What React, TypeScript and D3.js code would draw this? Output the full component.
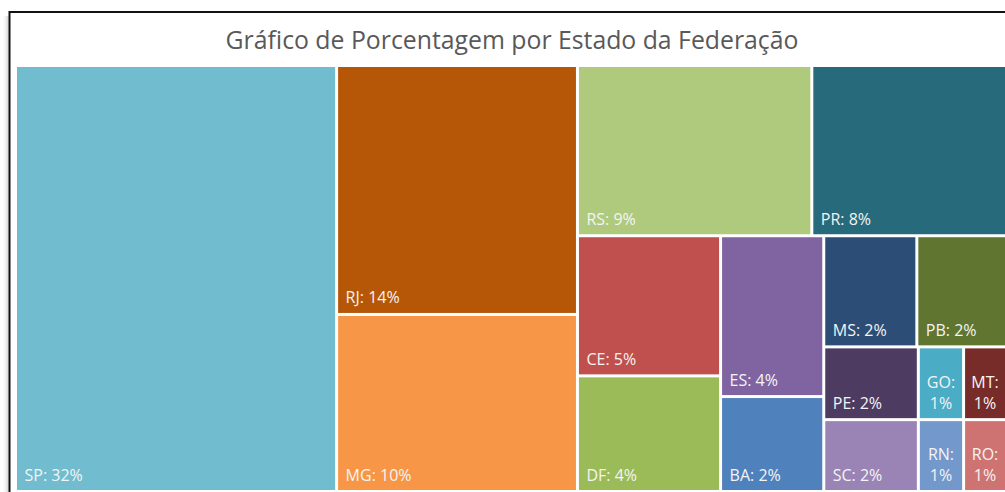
import React from "react";
import * as d3 from "d3";

const title = "Gráfico de Porcentagem por Estado da Federação";

const states = ["SP", "RJ", "MG", "RS", "PR", "CE", "DF", "ES", "BA", "MS", "PB", "PE", "GO", "MT", "SC", "RN", "RO"];
const values = [32.4, 14.2, 10.1, 9.45, 7.85, 4.75, 3.92, 3.93, 2.32, 2.45, 2.36, 1.63, 0.78, 0.74, 1.61, 0.77, 0.73];
const colors = [
  "#71BCCF", "#B65708", "#F79646", "#AFCA7D", "#276A7C", "#C0504D", "#9BBB59", "#8064A2",
  "#4F81BD", "#2C4D76", "#5F7530", "#4D3B62", "#4BACC6", "#772C2A", "#9A84B5", "#7399CC", "#CE7371",
];
const stateGroup = ["A", "B", "B", "C1", "C1", "C2a", "C2a", "C2b", "C2b", "R1", "R1", "R2", "R2", "R2", "R3", "R3", "R3"];

// layout groups (nesting of the treemap) and their split direction
const groupIds = ["root", "A", "B", "C", "C1", "C2", "C2a", "C2b", "C2c", "R1", "R2", "R3"];
const groupParent = [null, "root", "root", "root", "C", "C", "C2", "C2", "C2", "C2c", "C2c", "C2c"];
const groupDir = ["x", "y", "y", "y", "x", "x", "y", "y", "y", "x", "x", "x"];

const W = 1005;
const H = 492;
const plot = { x0: 17, y0: 67, x1: 1005, y1: 490 };
const labelSize = 16;

type Row = { id: string; parent: string | null; dir?: string; value?: number; color?: string; name?: string };

export default function App() {
  const rows: Row[] = [
    ...groupIds.map((id, i) => ({ id, parent: groupParent[i], dir: groupDir[i] })),
    ...states.map((s, i) => ({ id: "s_" + s, parent: stateGroup[i], value: values[i], color: colors[i], name: s })),
  ];
  const root = d3
    .stratify<Row>()
    .id((d) => d.id)
    .parentId((d) => d.parent)(rows)
    .sum((d) => d.value || 0);

  const tile = (node: any, x0: number, y0: number, x1: number, y1: number) => {
    if (node.data.dir === "x") d3.treemapDice(node, x0, y0, x1, y1);
    else d3.treemapSlice(node, x0, y0, x1, y1);
  };

  d3.treemap<Row>()
    .tile(tile as any)
    .size([plot.x1 - plot.x0, plot.y1 - plot.y0])
    .paddingInner(3)
    .round(false)(root);

  const total = d3.sum(values);
  const leaves = root.leaves() as d3.HierarchyRectangularNode<Row>[];

  return (
    <svg width={W} height={H} style={{ position: "absolute", left: 0, top: 0, background: "#fff" }}>
      <defs>
        <linearGradient id="shadow" x1="0" x2="1" y1="0" y2="0">
          <stop offset="0" stopColor="#fff" stopOpacity={0} />
          <stop offset="1" stopColor="#d0d0d0" stopOpacity={1} />
        </linearGradient>
      </defs>
      <rect x={2} y={16} width={6.5} height={H} fill="url(#shadow)" />
      <rect x={9.5} y={12} width={1006} height={500} fill="#fff" stroke="#111" strokeWidth={2} />
      <text
        x={512}
        y={49}
        textAnchor="middle"
        fontFamily="'Open Sans', sans-serif"
        fontSize={24.8}
        fill="#595959"
      >
        {title}
      </text>
      <g transform={`translate(${plot.x0},${plot.y0})`}>
        {leaves.map((d, i) => {
          const w = d.x1 - d.x0;
          const pct = Math.round(((d.data.value || 0) / total) * 100) + "%";
          const label = `${d.data.name}: ${pct}`;
          const estW = label.length * 0.58 * labelSize;
          const wrap = estW > w - 14;
          const by = d.y1 - 9.5;
          return (
            <g key={i}>
              <rect x={d.x0} y={d.y0} width={w} height={d.y1 - d.y0} fill={d.data.color} />
              {wrap ? (
                <text
                  fontFamily="'Open Sans', sans-serif"
                  fontSize={labelSize}
                  fill="#F4F4F4"
                  textAnchor="middle"
                >
                  <tspan x={(d.x0 + d.x1) / 2} y={by - 20.5}>{d.data.name + ":"}</tspan>
                  <tspan x={(d.x0 + d.x1) / 2} y={by}>{pct}</tspan>
                </text>
              ) : (
                <text
                  x={d.x0 + 7.5}
                  y={by}
                  fontFamily="'Open Sans', sans-serif"
                  fontSize={labelSize}
                  fill="#F4F4F4"
                >
                  {label}
                </text>
              )}
            </g>
          );
        })}
      </g>
    </svg>
  );
}
